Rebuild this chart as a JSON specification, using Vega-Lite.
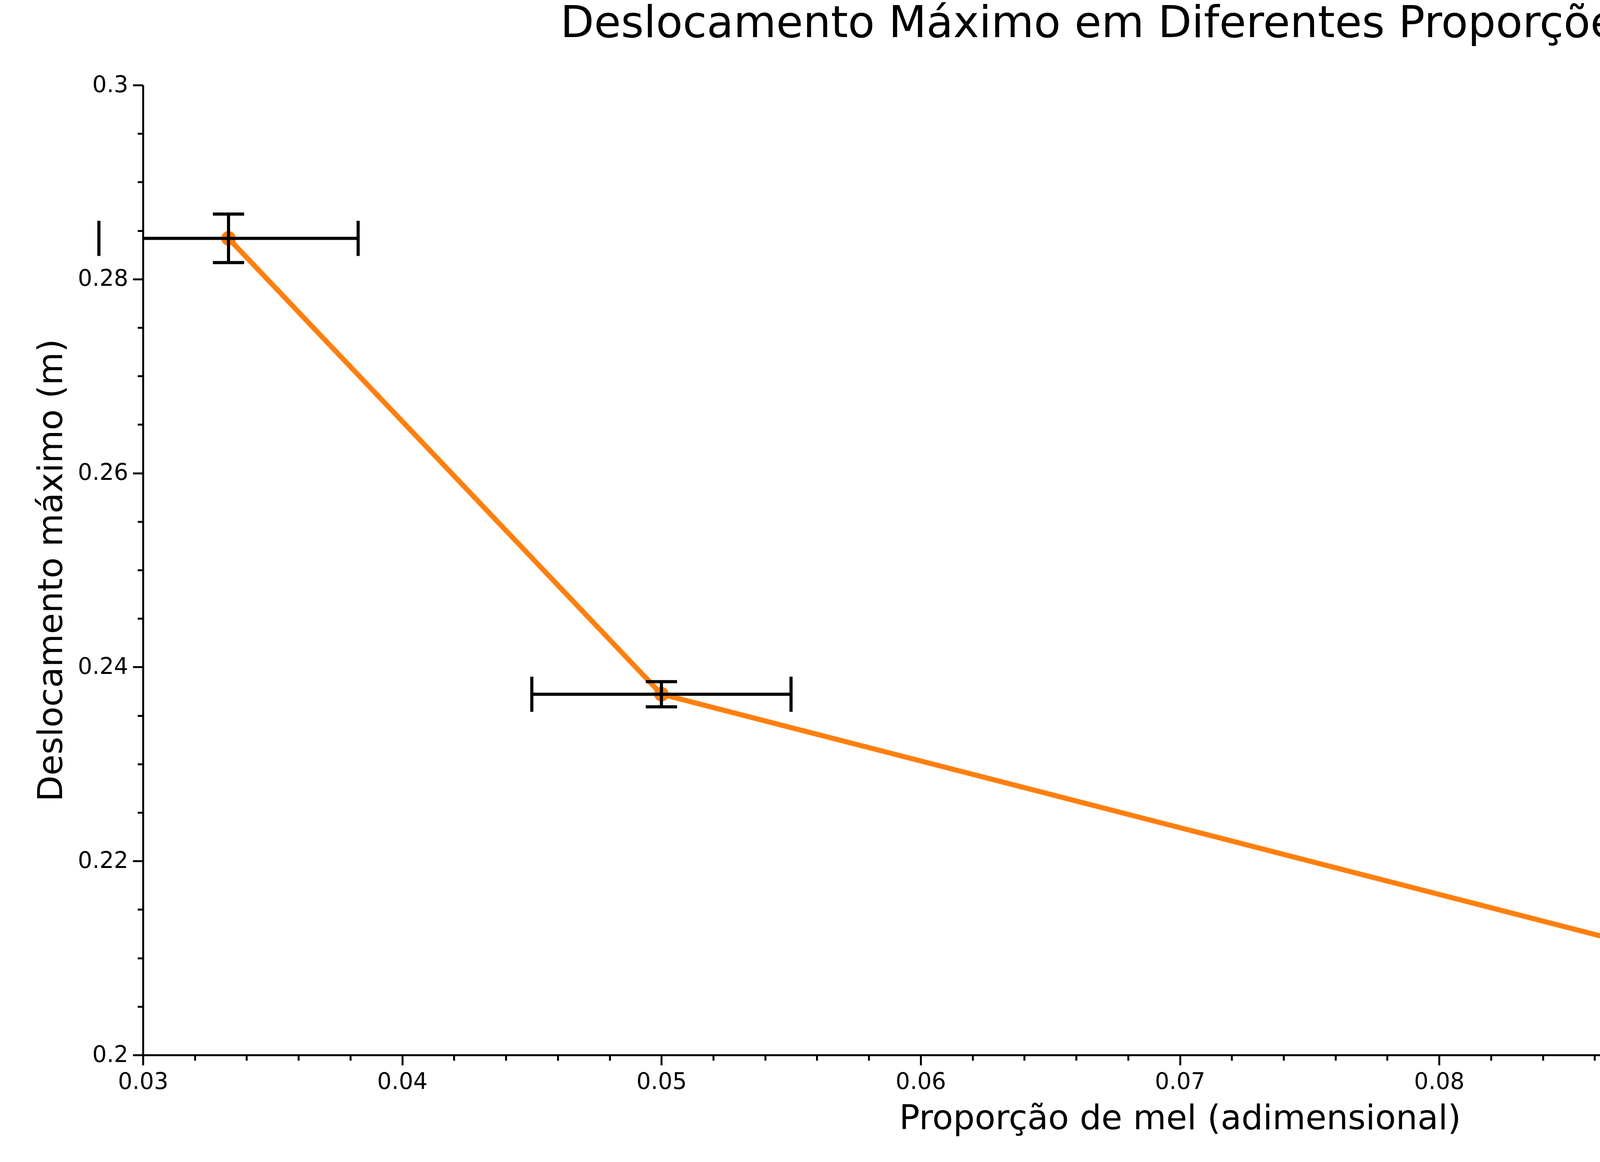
{
  "$schema": "https://vega.github.io/schema/vega-lite/v6.json",
  "autosize": "none",
  "width": 5309,
  "height": 2484,
  "padding": {"left": 366, "top": 218, "right": 11, "bottom": 274},
  "background": "white",
  "title": {"text": "Deslocamento Máximo em Diferentes Proporções de Mel", "font": "DejaVu Sans", "fontSize": 112, "fontWeight": "normal", "color": "black", "offset": 70},
  "data": {"values": [
    {"x": 0.0333, "y": 0.2842, "xe": 0.005, "ye": 0.0025},
    {"x": 0.05, "y": 0.2372, "xe": 0.005, "ye": 0.0013},
    {"x": 0.1, "y": 0.2028, "xe": 0.01, "ye": 0.001}
  ]},
  "transform": [
    {"calculate": "datum.x - datum.xe", "as": "xlo"},
    {"calculate": "datum.x + datum.xe", "as": "xhi"},
    {"calculate": "datum.y - datum.ye", "as": "ylo"},
    {"calculate": "datum.y + datum.ye", "as": "yhi"}
  ],
  "encoding": {
    "x": {"field": "x", "type": "quantitative", "scale": {"domain": [0.03, 0.11], "nice": false, "zero": false},
      "axis": {"title": "Proporção de mel (adimensional)",
        "values": [0.03,0.032,0.034,0.036,0.038,0.04,0.042,0.044,0.046,0.048,0.05,0.052,0.054,0.056,0.058,0.06,0.062,0.064,0.066,0.068,0.07,0.072,0.074,0.076,0.078,0.08,0.082,0.084,0.086,0.088,0.09,0.092,0.094,0.096,0.098,0.1,0.102,0.104,0.106,0.108,0.11],
        "labelExpr": "abs(datum.value*100 - round(datum.value*100)) < 0.001 ? format(datum.value, '~g') : ''",
        "tickSize": {"condition": {"test": "abs(datum.value*100 - round(datum.value*100)) < 0.001", "value": 26}, "value": 14},
        "grid": false, "domainColor": "black", "domainWidth": 5, "tickColor": "black", "tickWidth": 5, "labelFontSize": 58, "labelColor": "black", "labelFont": "DejaVu Sans", "titleFont": "DejaVu Sans", "titleFontSize": 87, "titleFontWeight": "normal", "titleColor": "black", "labelPadding": 14, "titlePadding": 22, "labelOverlap": false, "labelBound": false, "labelFlush": false}},
    "y": {"field": "y", "type": "quantitative", "scale": {"domain": [0.2, 0.3], "nice": false, "zero": false},
      "axis": {"title": "Deslocamento máximo (m)",
        "values": [0.2,0.205,0.21,0.215,0.22,0.225,0.23,0.235,0.24,0.245,0.25,0.255,0.26,0.265,0.27,0.275,0.28,0.285,0.29,0.295,0.3],
        "labelExpr": "abs(datum.value*50 - round(datum.value*50)) < 0.001 ? format(datum.value, '~g') : ''",
        "tickSize": {"condition": {"test": "abs(datum.value*50 - round(datum.value*50)) < 0.001", "value": 26}, "value": 14},
        "grid": false, "domainColor": "black", "domainWidth": 5, "tickColor": "black", "tickWidth": 5, "labelFontSize": 58, "labelColor": "black", "labelFont": "DejaVu Sans", "titleFont": "DejaVu Sans", "titleFontSize": 87, "titleFontWeight": "normal", "titleColor": "black", "labelPadding": 12, "titlePadding": 22, "labelOverlap": false, "labelBound": false, "labelFlush": false}}
  },
  "layer": [
    {"mark": {"type": "line", "color": "#ff7f0e", "strokeWidth": 13}},
    {"mark": {"type": "point", "filled": true, "color": "#ff7f0e", "size": 1400, "opacity": 1}},
    {"mark": {"type": "rule", "color": "black", "strokeWidth": 8, "clip": true}, "encoding": {"x": {"field": "xlo", "type": "quantitative"}, "x2": {"field": "xhi"}}},
    {"mark": {"type": "rule", "color": "black", "strokeWidth": 8}, "encoding": {"y": {"field": "ylo", "type": "quantitative"}, "y2": {"field": "yhi"}}},
    {"mark": {"type": "tick", "orient": "vertical", "color": "black", "thickness": 8, "size": 90, "opacity": 1}, "encoding": {"x": {"field": "xlo", "type": "quantitative"}}},
    {"mark": {"type": "tick", "orient": "vertical", "color": "black", "thickness": 8, "size": 90, "opacity": 1, "clip": true}, "encoding": {"x": {"field": "xhi", "type": "quantitative"}}},
    {"mark": {"type": "tick", "orient": "horizontal", "color": "black", "thickness": 8, "size": 80, "opacity": 1}, "encoding": {"y": {"field": "ylo", "type": "quantitative"}}},
    {"mark": {"type": "tick", "orient": "horizontal", "color": "black", "thickness": 8, "size": 80, "opacity": 1}, "encoding": {"y": {"field": "yhi", "type": "quantitative"}}}
  ],
  "config": {"view": {"stroke": null}}
}
